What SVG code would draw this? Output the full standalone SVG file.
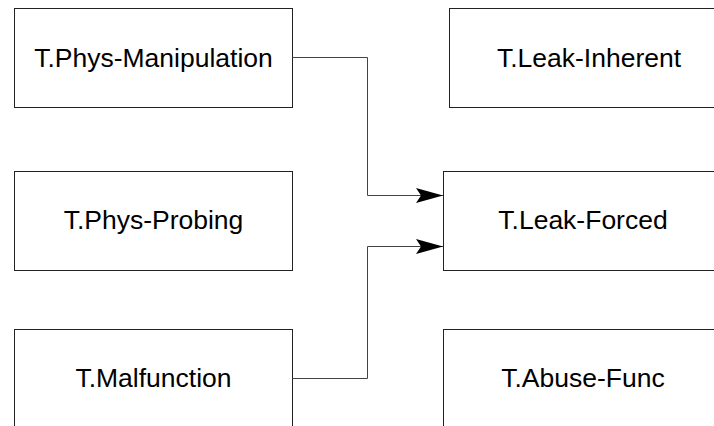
<svg xmlns="http://www.w3.org/2000/svg" width="714" height="426" viewBox="0 0 714 426">
<style>
.box{fill:#fff;stroke:#222;stroke-width:1}
.lbl{font-family:"Liberation Sans",Arial,sans-serif;font-size:26.5px;fill:#000;text-anchor:middle}
.conn{fill:none;stroke:#444;stroke-width:1}
</style>
<defs>
<marker id="arr" markerUnits="userSpaceOnUse" markerWidth="28" markerHeight="16" refX="27" refY="8" orient="auto" viewBox="0 0 28 16">
<path d="M0,0.5 L27,8 L0,15.5 L5,8 Z" fill="#000"/>
</marker>
</defs>
<rect width="714" height="426" fill="#fff"/>
<g id="n-phys-manipulation"><rect class="box" x="14.5" y="8.5" width="278" height="99"/><text class="lbl" x="153.5" y="66.5">T.Phys-Manipulation</text></g>
<g id="n-leak-inherent"><rect class="box" x="449.5" y="8.5" width="279" height="99"/><text class="lbl" x="589" y="66.5">T.Leak-Inherent</text></g>
<g id="n-phys-probing"><rect class="box" x="14.5" y="171.5" width="278" height="99"/><text class="lbl" x="153.5" y="229">T.Phys-Probing</text></g>
<g id="n-leak-forced"><rect class="box" x="443.5" y="171.5" width="279" height="99"/><text class="lbl" x="583" y="229">T.Leak-Forced</text></g>
<g id="n-malfunction"><rect class="box" x="14.5" y="329.5" width="278" height="99"/><text class="lbl" x="153.5" y="387">T.Malfunction</text></g>
<g id="n-abuse-func"><rect class="box" x="443.5" y="329.5" width="279" height="99"/><text class="lbl" x="583" y="387">T.Abuse-Func</text></g>
<g id="connectors">
<path class="conn" d="M292.5,57.5 H367.5 V195.5 H443" marker-end="url(#arr)"/>
<path class="conn" d="M292.5,378.5 H367.5 V246.5 H443" marker-end="url(#arr)"/>
</g>
</svg>
